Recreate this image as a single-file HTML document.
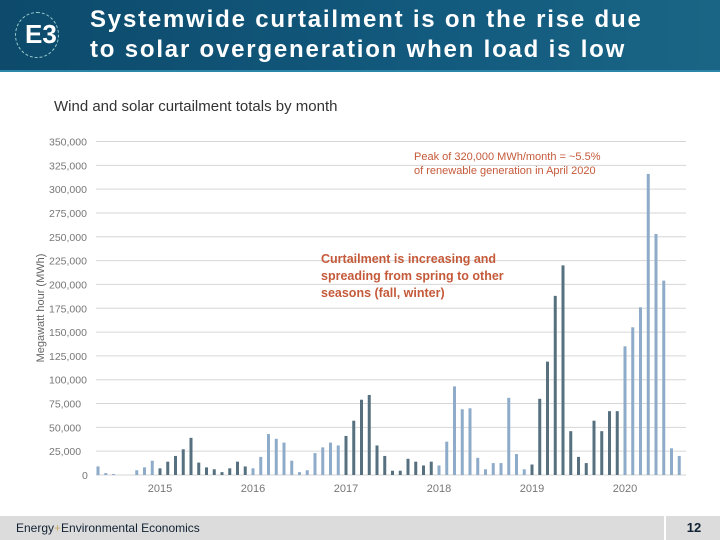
<!DOCTYPE html>
<html><head><meta charset="utf-8">
<style>
body{margin:0;width:720px;height:540px;overflow:hidden;background:#fff;font-family:"Liberation Sans",sans-serif;position:relative}
#hdr{position:absolute;left:0;top:0;width:720px;height:70px;background:linear-gradient(90deg,#0d4a6b,#125a7e 60%,#1a6585);border-bottom:2px solid #2c86a8}
#ttl{position:absolute;left:90px;top:5px;color:#fff;font-weight:bold;font-size:24px;line-height:30px;letter-spacing:1.8px}
#logo{position:absolute;left:15px;top:12px;width:42px;height:44px;border:1px dashed #9cc;border-radius:50%}
#ftr{position:absolute;left:0;top:516px;width:720px;height:24px;background:#dcdcdc}
</style></head><body>
<div id="hdr">
<div id="logo"><div style="position:absolute;left:9px;top:7px;color:#fff;font-weight:bold;font-size:26px;line-height:28px">E3</div></div>
<div id="ttl">Systemwide curtailment is on the rise due<br>to solar overgeneration when load is low</div>
</div>
<div id="ftr">
<div style="position:absolute;left:16px;top:5px;font-size:12px;color:#123;font-family:'Liberation Sans Narrow','Liberation Sans',sans-serif">Energy<span style="color:#c9a86b">+</span>Environmental Economics</div>
<div style="position:absolute;left:664px;top:0;width:56px;height:24px;border-left:2px solid #fff;text-align:center;font-weight:bold;font-size:13px;line-height:24px;color:#123">12</div>
</div>
<svg id="chart" width="720" height="540" style="position:absolute;left:0;top:0">
<text x="54" y="111" font-size="15" fill="#333">Wind and solar curtailment totals by month</text>
<text transform="translate(44,308) rotate(-90)" text-anchor="middle" font-size="11" fill="#666">Megawatt hour (MWh)</text>
<g id="grid"></g><g id="bars"></g><g id="xl"></g>
<text x="414" y="160" font-size="11" fill="#c55a3a"><tspan x="414">Peak of 320,000 MWh/month = ~5.5%</tspan><tspan x="414" dy="14">of renewable generation in April 2020</tspan></text>
<text x="321" y="263" font-size="12.5" font-weight="bold" fill="#c55a3a"><tspan x="321">Curtailment is increasing and</tspan><tspan x="321" dy="17">spreading from spring to other</tspan><tspan x="321" dy="17">seasons (fall, winter)</tspan></text>
</svg>
<script>
const values=[9000,2000,1000,0,0,5000,8000,15000,7000,14000,20000,27000,39000,13000,8000,6000,3000,7000,14000,9000,7000,19000,43000,38000,34000,15000,3000,5000,23000,29000,34000,31000,41000,57000,79000,84000,31000,20000,4500,4500,17000,14000,10000,14000,10000,35000,93000,69000,70000,18000,6000,12500,12500,81000,22000,6000,11000,80000,119000,188000,220000,46000,19000,12500,57000,46000,67000,67000,135000,155000,176000,316000,253000,204000,28000,20000];
const startYear=2014, startMonth=4; // May 2014 (0-based)
const yTicks=[0,25000,50000,75000,100000,125000,150000,175000,200000,225000,250000,275000,300000,325000,350000];
const yearLabels=["2015","2016","2017","2018","2019","2020"];
const ns="http://www.w3.org/2000/svg";
const y0=475,yTop=141.5,yMax=350000,x0=98,dx=7.75;
const Y=v=>y0-(v/yMax)*(y0-yTop);
const X=i=>x0+i*dx;
const g=document.getElementById('grid');
yTicks.forEach(t=>{
 const l=document.createElementNS(ns,'line');
 l.setAttribute('x1',96);l.setAttribute('x2',686);l.setAttribute('y1',Y(t));l.setAttribute('y2',Y(t));
 l.setAttribute('stroke','#d6d6d6');l.setAttribute('stroke-width','1');
 
 
 g.appendChild(l);
 const tx=document.createElementNS(ns,'text');
 tx.setAttribute('x',t===0?82:49);tx.setAttribute('y',Y(t)+4);tx.setAttribute('font-size','10.5');tx.setAttribute('fill','#777');
 tx.textContent=t.toLocaleString('en-US');
 
 
 g.appendChild(tx);
});
const b=document.getElementById('bars');
values.forEach((v,i)=>{
 const m=startMonth+i, yr=startYear+Math.floor(m/12);
 const dark=(yr%2===1);
 const r=document.createElementNS(ns,'rect');
 r.setAttribute('x',X(i)-1.5);r.setAttribute('width',3);r.setAttribute('y',Y(v));r.setAttribute('height',y0-Y(v));
 r.setAttribute('fill',dark?'#56707f':'#8eabc9');
 
 
 b.appendChild(r);
});
const xl=document.getElementById('xl');
yearLabels.forEach(s=>{
 const i=(parseInt(s)-startYear)*12-startMonth;
 const t=document.createElementNS(ns,'text');
 t.setAttribute('x',X(i));t.setAttribute('y',492);t.setAttribute('text-anchor','middle');t.setAttribute('font-size','11');t.setAttribute('fill','#777');
 t.textContent=s;
 
 
 xl.appendChild(t);
});
</script>
</body></html>
